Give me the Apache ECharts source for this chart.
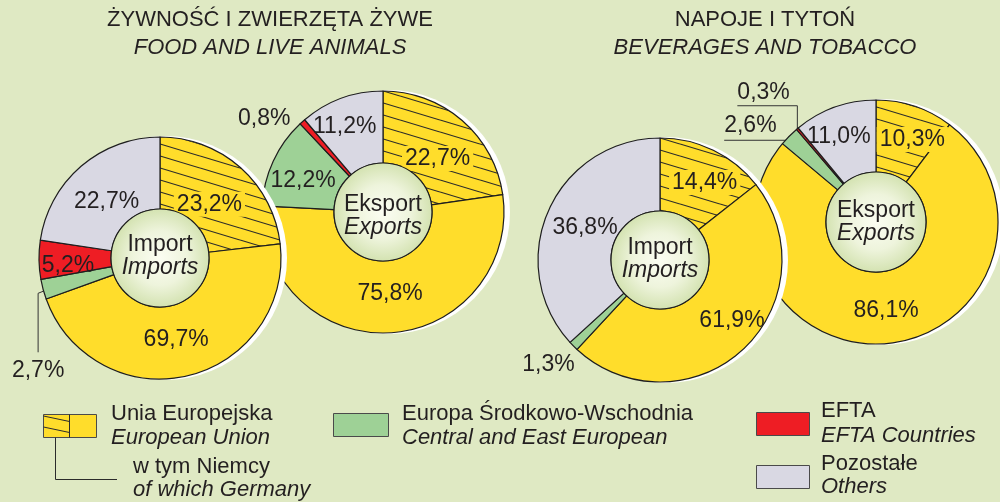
<!DOCTYPE html>
<html>
<head>
<meta charset="utf-8">
<script src="https://cdn.jsdelivr.net/npm/echarts@6/dist/echarts.min.js"></script>
<style>
  html, body { margin: 0; padding: 0; background: #dfe9c3; }
  #chart { width: 1000px; height: 502px; }
</style>
</head>
<body>
<div id="chart"></div>
<script>
// Shares in % — order: [Niemcy (w tym), Unia Europejska ogółem, Europa Środkowo-Wschodnia, EFTA, Pozostałe]
const segmentNames = ['w tym Niemcy', 'Unia Europejska', 'Europa Środkowo-Wschodnia', 'EFTA', 'Pozostałe'];
const foodImport   = [23.2, 69.7, 2.7, 5.2, 22.7];
const foodExport   = [22.7, 75.8, 12.2, 0.8, 11.2];
const bevImport    = [14.4, 61.9, 1.3, 0.0, 36.8];
const bevExport    = [10.3, 86.1, 2.6, 0.3, 11.0];

const titlesPl = ['ŻYWNOŚĆ I ZWIERZĘTA ŻYWE', 'NAPOJE I TYTOŃ'];
const titlesEn = ['FOOD AND LIVE ANIMALS', 'BEVERAGES AND TOBACCO'];
const centerPl = ['Import', 'Eksport'];
const centerEn = ['Imports', 'Exports'];

const FONT = '"Liberation Sans", Arial, Helvetica, sans-serif';
const INK = '#231f20';
const YELLOW = '#ffdd2b';
const GREEN = '#9ed196';
const RED = '#ee1d24';
const GREY = '#d9d8e3';
const BG = '#dfe9c3';

// diagonal hatch used for the "of which Germany" part of the EU slice
function hatchCanvas() {
  const c = document.createElement('canvas');
  c.width = 40; c.height = 12;
  const g = c.getContext('2d');
  g.fillStyle = YELLOW; g.fillRect(0, 0, 40, 12);
  g.strokeStyle = '#2b2b2b'; g.lineWidth = 1.1;
  for (let k = -1; k <= 1; k++) {
    g.beginPath(); g.moveTo(0, k * 12); g.lineTo(40, k * 12 + 12); g.stroke();
  }
  return c;
}
const HATCH = { image: hatchCanvas(), repeat: 'repeat' };

const fmt = v => v.toFixed(1).replace('.', ',') + '%';

// slice values: Germany, rest of EU, CEE, EFTA, others (zero shares dropped)
function sliceData(shares, nudges) {
  const [de, eu, cee, efta, oth] = shares;
  const items = [
    { name: segmentNames[0], value: de, shown: de, itemStyle: { color: HATCH },
      label: { backgroundColor: YELLOW, padding: [1, 3] } },
    { name: segmentNames[1], value: eu - de, shown: eu, itemStyle: { color: YELLOW } },
    { name: segmentNames[2], value: cee, shown: cee, itemStyle: { color: GREEN } },
    { name: segmentNames[3], value: efta, shown: efta, itemStyle: { color: RED } },
    { name: segmentNames[4], value: oth, shown: oth, itemStyle: { color: GREY } }
  ];
  items.forEach((d, i) => {
    if (nudges[i]) d.label = Object.assign({}, d.label || {}, { offset: nudges[i] });
  });
  return items.filter(d => d.value > 0);
}

// point on the outer rim at the middle angle of a slice (pie starts at 12 o'clock, clockwise)
function rimPoint(data, idx, center, r) {
  const total = data.reduce((s, d) => s + d.value, 0);
  let before = 0;
  for (let i = 0; i < idx; i++) before += data[i].value;
  const a = (before + data[idx].value / 2) / total * Math.PI * 2;
  return [center[0] + r * Math.sin(a), center[1] - r * Math.cos(a)];
}

let zCounter = 2;
function donut(shares, center, r0, r1, pl, en, hubShift, nudges, outside) {
  const data = sliceData(shares, nudges);
  data.forEach(d => {
    const o = outside[d.name];
    if (o) {
      d.label = Object.assign({}, d.label || {}, { position: 'outside' });
      d.labelLine = { show: !!o.line, lineStyle: { color: '#333', width: 1 } };
    }
  });
  const base = { type: 'pie', center: center, silent: true, animation: false,
    startAngle: 90, clockwise: true, avoidLabelOverlap: false, emphasis: { disabled: true } };
  const shadow = Object.assign({}, base, {
    z: zCounter++, radius: [0, r1 + 1], center: [center[0] + 5, center[1]],
    data: [{ value: 1 }], itemStyle: { color: '#ffffff' }, label: { show: false }, labelLine: { show: false }
  });
  const ring = Object.assign({}, base, {
    z: zCounter++, radius: [r0, r1], data: data,
    itemStyle: { borderColor: '#1e1e1e', borderWidth: 1.2 },
    label: { show: true, position: 'inside', color: INK, fontSize: 23, fontFamily: FONT,
      formatter: p => fmt(p.data.shown) },
    labelLine: { show: false },
    labelLayout: function (p) {
      const d = data[p.dataIndex];
      const o = d && outside[d.name];
      if (!o) return {};
      return o.place(rimPoint(data, p.dataIndex, center, r1));
    }
  });
  const hub = Object.assign({}, base, {
    z: zCounter++, radius: [0, r0], data: [{ value: 1 }],
    itemStyle: {
      color: new echarts.graphic.RadialGradient(0.5, 0.5, 0.5, [
        { offset: 0, color: '#fbfdf2' }, { offset: 0.55, color: '#eef4dc' }, { offset: 1, color: '#d3e2b0' }
      ]),
      borderColor: '#1e1e1e', borderWidth: 1.2
    },
    label: { show: true, position: 'center', offset: [0, hubShift],
      formatter: '{a|' + pl + '}\n{b|' + en + '}',
      rich: {
        a: { fontSize: 23, fontFamily: FONT, color: INK, lineHeight: 23 },
        b: { fontSize: 23, fontFamily: FONT, color: INK, fontStyle: 'italic', lineHeight: 23 }
      } },
    labelLine: { show: false }
  });
  return [shadow, ring, hub];
}

const series = [].concat(
  donut(foodExport, [383, 212], 49, 121, centerPl[1], centerEn[1], 4,
    [[-3, 13], [3, -6], [0, 6], null, [-8, -3]], {
    'EFTA': { place: p => ({ x: p[0] - 12, y: p[1] - 3, align: 'right', verticalAlign: 'middle' }) }
  }),
  donut(foodImport, [160, 258], 49, 121, centerPl[0], centerEn[0], -2,
    [[-9, 12], [-4, -4], null, [-4, 6], [4, 10]], {
    'Europa Środkowo-Wschodnia': { line: true, place: p => ({
      x: p[0] - 5, y: p[1] + 70, align: 'center', verticalAlign: 'top',
      labelLinePoints: [[p[0], p[1] + 2], [p[0] - 5, p[1] + 4], [p[0] - 5, p[1] + 63]] }) }
  }),
  donut(bevExport, [876, 222], 50, 122, centerPl[1], centerEn[1], 0,
    [[8, 2], null, null, null, [-7, -2]], {
    'EFTA': { line: true, place: p => ({
      x: p[0] - 60, y: p[1] - 25, align: 'left', verticalAlign: 'bottom',
      labelLinePoints: [[p[0], p[1]], [p[0], p[1] - 23], [p[0] - 60, p[1] - 23]] }) },
    'Europa Środkowo-Wschodnia': { line: true, place: p => ({
      x: p[0] - 65, y: p[1] + 1, align: 'left', verticalAlign: 'bottom',
      labelLinePoints: [[p[0], p[1]], [p[0], p[1] + 4], [p[0] - 65, p[1] + 4]] }) }
  }),
  donut(bevImport, [660, 260], 49, 122, centerPl[0], centerEn[0], -1,
    [[6, 2], [12, -4], null, null, [6, 3]], {
    'Europa Środkowo-Wschodnia': { place: p => ({ x: p[0] - 25, y: p[1] + 19, align: 'center', verticalAlign: 'middle' }) }
  })
);

// headings and legend
function txt(text, x, y, opts) {
  return Object.assign({ type: 'text', z: 100, silent: true,
    style: Object.assign({ text: text, x: x, y: y, fill: INK, fontSize: 22, fontFamily: FONT,
      align: 'left', verticalAlign: 'middle', textAlign: 'left', textVerticalAlign: 'middle' }, opts || {}) });
}
function centred(text, x, y, italic) {
  return txt(text, x, y, { align: 'center', textAlign: 'center', fontStyle: italic ? 'italic' : 'normal' });
}
function swatch(x, y, w, h, fill) {
  return { type: 'rect', z: 100, silent: true, shape: { x: x, y: y, width: w, height: h },
    style: { fill: fill, stroke: '#4a4a4a', lineWidth: 1 } };
}
function seg(points) {
  return { type: 'polyline', z: 101, silent: true, shape: { points: points },
    style: { stroke: '#2b2b2b', lineWidth: 1, fill: null } };
}
const legendLabels = [
  ['Unia Europejska', 'European Union'],
  ['w tym Niemcy', 'of which Germany'],
  ['Europa Środkowo-Wschodnia', 'Central and East European'],
  ['EFTA', 'EFTA Countries'],
  ['Pozostałe', 'Others']
];

const graphics = [
  centred(titlesPl[0], 270, 20, false),
  centred(titlesEn[0], 270, 48, true),
  centred(titlesPl[1], 765, 20, false),
  centred(titlesEn[1], 765, 48, true),

  swatch(43.5, 414.5, 53, 23, YELLOW),
  seg([[43.5, 416], [69.5, 421.5]]),
  seg([[43.5, 427], [69.5, 432.5]]),
  seg([[69.5, 414.5], [69.5, 437.5]]),
  seg([[55.5, 437.5], [55.5, 479.5], [117, 479.5]]),
  txt(legendLabels[0][0], 111, 414),
  txt(legendLabels[0][1], 111, 438, { fontStyle: 'italic' }),
  txt(legendLabels[1][0], 133, 467),
  txt(legendLabels[1][1], 133, 490, { fontStyle: 'italic' }),

  swatch(333.5, 413.5, 55, 23, GREEN),
  txt(legendLabels[2][0], 402, 414),
  txt(legendLabels[2][1], 402, 438, { fontStyle: 'italic' }),

  swatch(756.5, 412.5, 53, 23, RED),
  txt(legendLabels[3][0], 821, 411),
  txt(legendLabels[3][1], 821, 436, { fontStyle: 'italic' }),

  swatch(756.5, 465.5, 53, 23, GREY),
  txt(legendLabels[4][0], 821, 464),
  txt(legendLabels[4][1], 821, 487, { fontStyle: 'italic' })
];

const chart = echarts.init(document.getElementById('chart'), null, { renderer: 'canvas' });
chart.setOption({
  backgroundColor: BG,
  animation: false,
  series: series,
  graphic: { elements: graphics }
});
</script>
</body>
</html>
